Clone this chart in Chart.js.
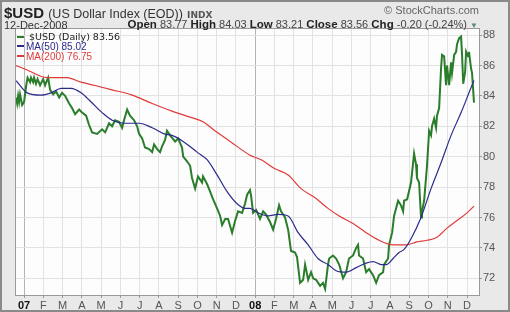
<!DOCTYPE html>
<html>
<head>
<meta charset="utf-8">
<script src="https://cdn.jsdelivr.net/npm/chart.js@4.4.0/dist/chart.umd.min.js"></script>
<style>
body{margin:0;background:#fff;}
#wrap{position:relative;width:510px;height:312px;overflow:hidden;font-family:"Liberation Sans",Arial,sans-serif;}
#c{position:absolute;left:0;top:0;}
.t{position:absolute;white-space:nowrap;line-height:1;}
.lg{position:absolute;left:17px;white-space:nowrap;line-height:1;font-size:10px;}
.dash{display:inline-block;width:7px;height:2px;vertical-align:middle;margin-right:2px;position:relative;top:-1px;}
</style>
</head>
<body>
<div id="wrap">
<canvas id="c" width="510" height="312"></canvas>
<div class="t" style="left:4px;top:5px;font-size:15px;font-weight:bold;color:#222">$USD <span style="font-size:12.5px;font-weight:normal;color:#333">(US Dollar Index (EOD))</span> <span style="font-family:'DejaVu Sans';font-size:9px;font-weight:bold;color:#555">INDX</span></div>
<div class="t" style="left:4px;top:20px;font-size:11px;color:#333">12-Dec-2008</div>
<div class="t" style="right:32px;top:19px;font-size:11px;color:#444"><b style="font-size:11.5px;color:#222">Open</b> 83.77 <b style="font-size:11.5px;color:#222">High</b> 84.03 <b style="font-size:11.5px;color:#222">Low</b> 83.21 <b style="font-size:11.5px;color:#222">Close</b> 83.56 <b style="font-size:11.5px;color:#222">Chg</b> -0.20 (-0.24%) <span style="font-size:8px;color:#5a8a8a">&#9660;</span></div>
<div class="t" style="right:31px;top:5px;font-size:11px;color:#666">&copy; StockCharts.com</div>
<div class="lg" style="top:32px;font-family:'DejaVu Sans';font-size:9.5px;color:#222"><span class="dash" style="background:#2a7d2a"></span> $USD (Daily) 83.56</div>
<div class="lg" style="top:42px;color:#2b2b8c"><span class="dash" style="background:#2b2b8c"></span>MA(50) 85.02</div>
<div class="lg" style="top:52px;color:#e03a3a"><span class="dash" style="background:#e03a3a"></span>MA(200) 76.75</div>
</div>
<script>
// x values are months since 1-Jan-2007 (0 = Jan 07, 12 = Jan 08)
let monthLabels = ['07','F','M','A','M','J','J','A','S','O','N','D','08','F','M','A','M','J','J','A','S','O','N','D'];
let priceTicks = [72,74,76,78,80,82,84,86,88];

let usdMonth = [
  -0.42,-0.36,-0.31,-0.26,-0.21,-0.10,0.00,0.10,0.18,0.31,
  0.36,0.47,0.52,0.62,0.70,0.83,0.99,1.09,1.25,1.35,
  1.51,1.66,1.82,1.97,2.13,2.34,2.49,2.65,2.86,3.01,
  3.22,3.37,3.53,3.79,4.05,4.21,4.41,4.57,4.72,4.93,
  5.09,5.19,5.35,5.50,5.71,5.87,5.97,6.13,6.28,6.49,
  6.65,6.75,6.91,7.06,7.17,7.32,7.42,7.58,7.84,8.00,
  8.20,8.26,8.46,8.62,8.72,8.88,9.03,9.24,9.29,9.50,
  9.66,9.81,10.02,10.18,10.28,10.44,10.59,10.80,10.96,11.11,
  11.32,11.47,11.58,11.73,11.79,11.89,12.05,12.25,12.41,12.56,
  12.77,12.93,13.08,13.24,13.34,13.55,13.71,13.86,14.07,14.17,
  14.33,14.49,14.59,14.75,14.90,15.01,15.16,15.37,15.52,15.63,
  15.78,15.84,16.04,16.20,16.36,16.56,16.72,16.87,17.08,17.24,
  17.34,17.39,17.60,17.76,17.91,18.12,18.28,18.43,18.64,18.69,
  18.90,18.95,19.11,19.21,19.42,19.57,19.68,19.73,19.89,20.09,
  20.25,20.35,20.40,20.51,20.61,20.66,20.77,20.92,21.03,21.13,
  21.18,21.29,21.39,21.44,21.55,21.65,21.70,21.81,21.91,21.96,
  22.07,22.17,22.22,22.33,22.43,22.48,22.59,22.69,22.74,22.80,
  22.90,22.95,23.05,23.10,23.21,23.26,23.36
];
let usdClose = [
  83.9,83.5,84.0,83.6,84.1,83.4,83.6,84.6,85.2,84.9,
  85.2,84.9,85.2,84.8,85.1,84.7,85.1,84.7,85.2,84.4,
  84.1,84.3,83.9,84.2,84.0,83.5,83.2,82.8,83.1,82.9,
  82.7,82.1,81.6,81.5,81.8,81.6,82.2,82.0,82.4,82.3,
  81.9,82.4,83.1,82.7,82.4,82.0,81.5,81.2,80.6,80.5,
  80.3,80.8,80.5,80.3,80.7,81.1,81.7,81.4,81.0,81.2,
  80.6,80.0,79.7,79.4,78.6,77.9,78.7,78.3,78.7,78.2,
  77.7,77.2,76.6,76.1,75.5,75.9,75.9,75.0,75.8,76.4,
  76.3,76.9,77.5,77.8,77.4,76.3,76.5,75.9,76.4,76.2,
  75.7,75.2,75.9,76.8,76.4,76.0,75.2,73.8,73.7,73.4,
  71.7,71.9,72.9,71.9,72.4,72.0,71.9,71.5,71.7,71.3,
  72.9,73.3,73.5,73.3,72.9,72.0,72.4,73.3,73.5,74.0,
  74.2,73.5,73.3,72.4,72.6,72.2,71.7,72.2,72.4,72.9,
  73.3,74.2,75.0,76.1,77.1,76.8,76.4,77.1,77.2,78.3,
  80.2,79.5,78.6,78.3,76.0,76.4,77.1,79.4,81.7,81.4,
  82.0,82.5,81.9,82.7,83.2,85.8,86.7,86.6,84.7,86.0,
  84.7,86.2,85.5,86.7,86.9,87.4,87.8,87.9,86.7,84.8,
  85.6,86.9,86.6,86.9,85.8,85.5,83.56
];

let ma50Month = [-0.42,0.16,0.88,1.40,1.92,2.44,2.96,3.48,4.05,4.57,5.24,5.97,6.65,7.27,7.68,8.26,8.98,9.50,10.02,10.54,11.06,11.47,11.73,12.15,12.67,13.19,13.71,14.23,14.75,15.26,15.78,16.20,16.72,17.24,17.76,18.12,18.54,18.80,19.16,19.47,19.73,20.09,20.61,21.13,21.65,22.17,22.69,23.10,23.36];
let ma50 = [85.0,84.2,84.05,84.2,84.5,84.5,84.2,83.6,82.9,82.4,82.2,82.2,81.9,81.5,81.4,81.0,80.3,79.8,78.8,77.7,76.9,76.6,76.6,76.3,76.1,76.2,76.1,75.0,74.2,73.3,72.9,72.5,72.4,72.7,73.0,73.1,72.9,72.9,73.3,73.7,73.9,74.6,76.0,77.9,79.6,81.4,82.9,84.2,85.02];

let ma200Month = [-0.42,0.16,1.19,2.23,2.96,3.63,4.57,5.61,6.65,7.68,8.62,9.29,10.02,10.70,11.73,12.31,13.03,13.71,14.38,15.11,15.78,16.36,17.08,17.76,18.43,19.16,19.83,20.40,20.92,21.44,21.96,22.48,23.00,23.36];
let ma200 = [86.0,85.7,85.2,85.2,84.9,84.7,84.4,84.05,83.5,83.0,82.6,82.3,81.6,81.0,80.1,79.8,79.2,78.8,77.9,77.3,76.6,76.1,75.6,75.0,74.5,74.2,74.2,74.4,74.5,74.7,75.3,75.8,76.3,76.75];

let toPoints = function(xs, ys){
    return xs.map((x, i) => ({x: x, y: ys[i]}));
}

//background, frame of the plot
let framePlugin = {
    id: 'frame',
    beforeDraw: function(chart){
        let ctx = chart.ctx, a = chart.chartArea;
        ctx.save();
        ctx.fillStyle = '#e9e9e9';
        ctx.fillRect(0, 0, chart.width, chart.height);
        ctx.strokeStyle = '#8a8a8a';
        ctx.lineWidth = 2;
        ctx.strokeRect(1, 1, chart.width - 2, chart.height - 2);
        ctx.fillStyle = '#fdfdfd';
        ctx.fillRect(a.left, a.top, a.right - a.left, a.bottom - a.top);
        ctx.restore();
    },
    afterDraw: function(chart){
        let ctx = chart.ctx, a = chart.chartArea;
        ctx.save();
        ctx.strokeStyle = '#9a9a9a';
        ctx.lineWidth = 1;
        ctx.strokeRect(a.left - 0.5, a.top - 0.5, a.right - a.left + 1, a.bottom - a.top + 1);
        ctx.restore();
    }
};

new Chart(document.querySelector('#c'), {
    type: 'line',
    data: {
        datasets: [
        {
            label: '$USD (Daily)',
            data: toPoints(usdMonth, usdClose),
            borderColor: '#2a7d2a',
            borderWidth: 2,
            pointRadius: 0,
            tension: 0,
            order: 3
        },
        {
            label: 'MA(50)',
            data: toPoints(ma50Month, ma50),
            borderColor: '#2b2b8c',
            borderWidth: 1.2,
            pointRadius: 0,
            cubicInterpolationMode: 'monotone',
            order: 1
        },
        {
            label: 'MA(200)',
            data: toPoints(ma200Month, ma200),
            borderColor: '#e03a3a',
            borderWidth: 1.2,
            pointRadius: 0,
            cubicInterpolationMode: 'monotone',
            order: 2
        }]
    },
    options: {
        responsive: false,
        animation: false,
        devicePixelRatio: 1,
        layout: { padding: { left: 16, top: 29, right: 0, bottom: 0 } },
        plugins: { legend: { display: false }, tooltip: { enabled: false } },
        scales: {
            x: {
                type: 'linear',
                min: -0.42,
                max: 23.62,
                afterBuildTicks: s => { s.ticks = monthLabels.map((l, i) => ({value: i})); },
                afterFit: s => { s.height = 17; },
                grid: {
                    color: c => (c.tick && c.tick.value % 12 === 0) ? '#b4b4b4' : '#e2e2e2',
                    tickLength: 3,
                    tickColor: '#999'
                },
                border: { display: false },
                ticks: {
                    padding: 1,
                    maxRotation: 0,
                    autoSkip: false,
                    callback: v => monthLabels[v],
                    color: c => (c.tick && c.tick.value % 12 === 0) ? '#111' : '#555',
                    font: c => ({ family: 'Liberation Sans', size: 11, weight: (c.tick && c.tick.value % 12 === 0) ? 'bold' : 'normal' })
                }
            },
            y: {
                position: 'right',
                min: 70.9,
                max: 88.4,
                afterBuildTicks: s => { s.ticks = priceTicks.map(v => ({value: v})); },
                afterFit: s => { s.width = 31; },
                grid: { color: '#e2e2e2', tickLength: 3, tickColor: '#999' },
                border: { display: false },
                ticks: {
                    padding: 1,
                    color: '#555',
                    font: { family: 'Liberation Sans', size: 11 }
                }
            }
        }
    },
    plugins: [framePlugin]
});
</script>
</body>
</html>
